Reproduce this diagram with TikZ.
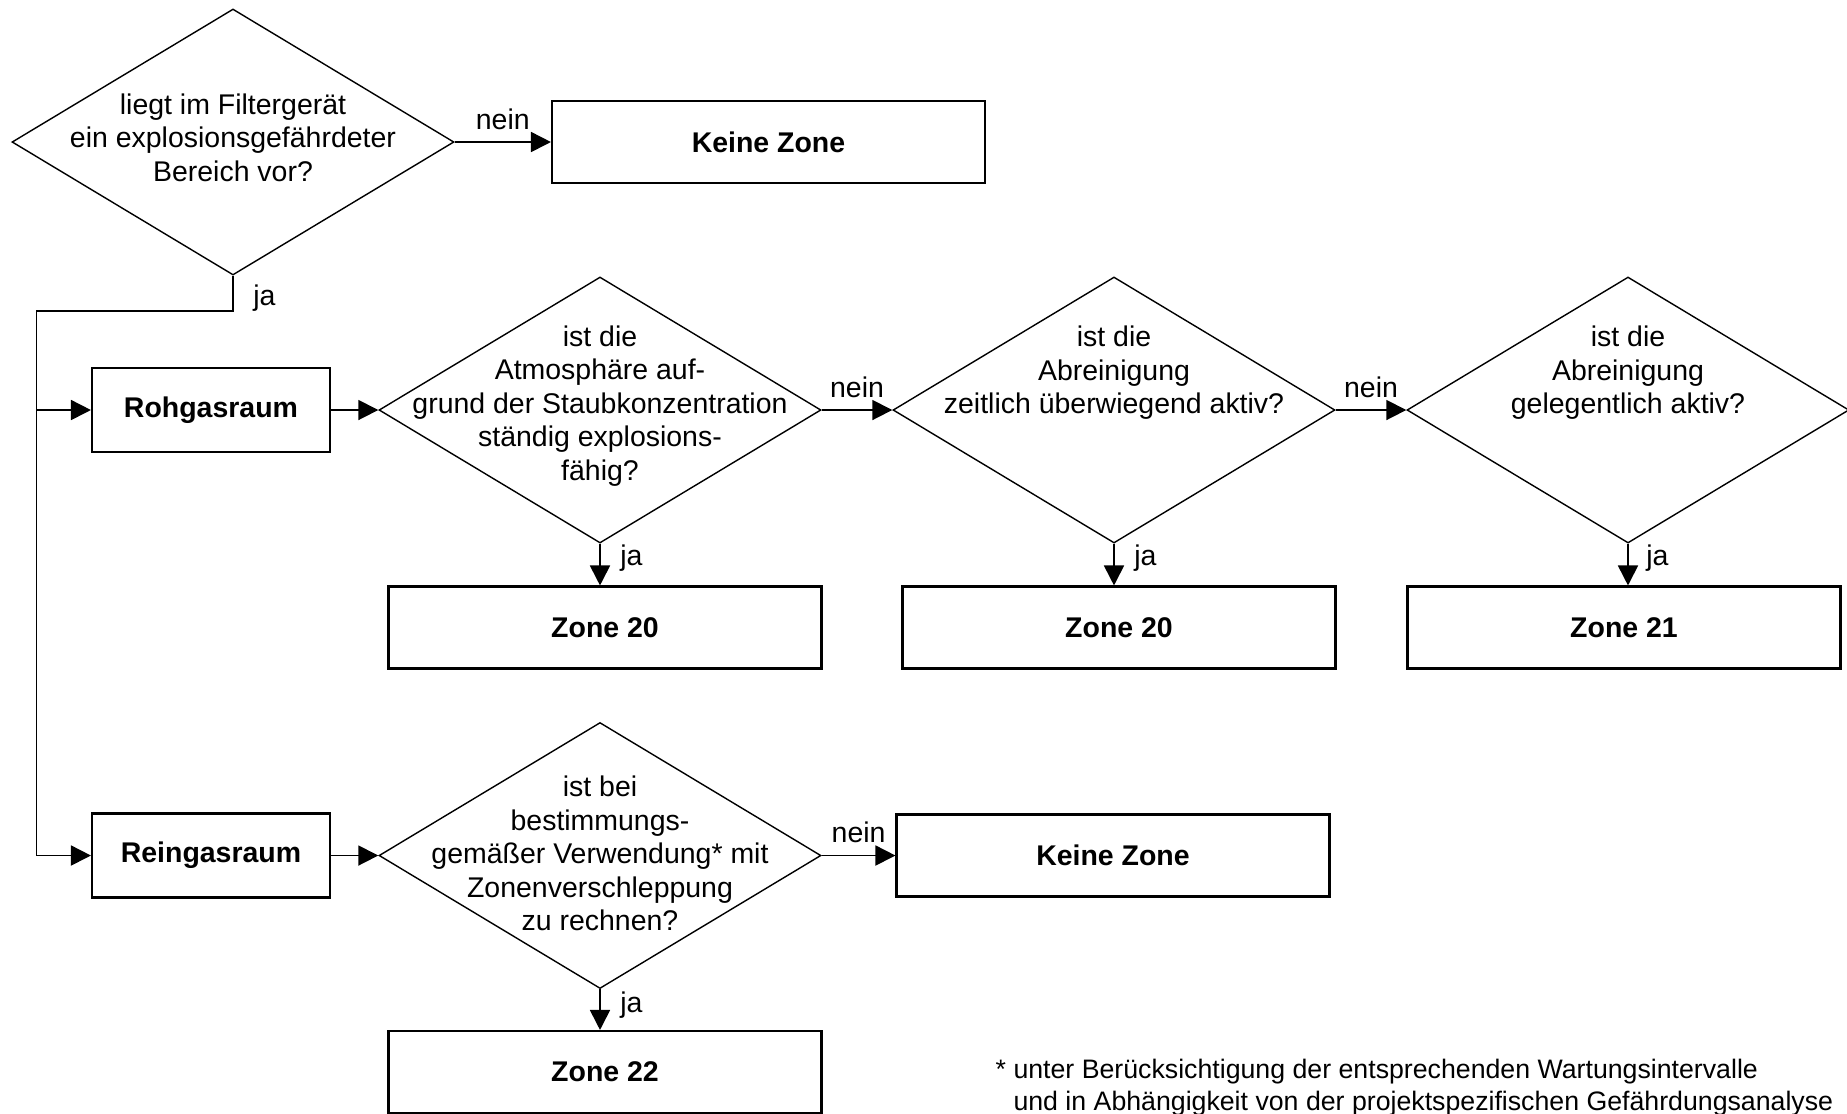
\documentclass[tikz,border=0pt]{standalone}
\usepackage{fontspec}
\setmainfont{Liberation Sans}
\usetikzlibrary{shapes.geometric,arrows.meta}
\newcommand\chartfont{\fontsize{8.1}{9.5}\selectfont}
\newcommand\notefont{\fontsize{7.6}{9.1}\selectfont}

\begin{document}
\begin{tikzpicture}[
  question/.style={diamond,draw,line width=0.4pt,minimum width=4.42cm,
                   minimum height=2.66cm,inner sep=0pt},
  qtext/.style={align=center,inner sep=0pt,font=\chartfont},
  zbox/.style={draw,line width=0.6pt,minimum width=4.33cm,minimum height=0.82cm,
               inner sep=0pt,font=\chartfont\bfseries},
  gbox/.style={zbox,minimum width=2.38cm,minimum height=0.84cm},
  flow/.style={line width=0.5pt,-{Triangle[length=2mm,width=2mm]}},
  lbl/.style={font=\chartfont,inner sep=1pt}]
  \useasboundingbox (0,0) rectangle (18.47,-11.13);

  % Entry question: is there a hazardous area at all?
  \node[question] (q1) at (2.33,-1.42) {};
  \node[qtext,yshift=0.45mm] (q1t) at (q1)
    {liegt im Filtergerät\\ein explosionsgefährdeter\\Bereich vor?};
  \node[zbox] (k1) at (7.685,-1.42) {Keine Zone};
  \draw[flow] (q1.east) -- node[lbl,above=0.8mm] {nein} (k1.west);

  % Raw gas side.
  \node[gbox] (roh) at (2.11,-4.10) {Rohgasraum};
  \node[question] (q2) at (6.00,-4.10) {};
  \node[qtext,yshift=0.4mm] (q2t) at (q2)
    {ist die\\Atmosphäre auf-\\grund der Staubkonzentration\\ständig explosions-\\fähig?};
  \node[question] (q3) at (11.14,-4.10) {};
  \node[qtext,yshift=3.7mm] (q3t) at (q3)
    {ist die\\Abreinigung\\zeitlich überwiegend aktiv?};
  \node[question] (q4) at (16.28,-4.10) {};
  \node[qtext,yshift=3.7mm] (q4t) at (q4)
    {ist die\\Abreinigung\\gelegentlich aktiv?};
  \node[zbox] (z20a) at (6.05,-6.275) {Zone 20};
  \node[zbox] (z20b) at (11.19,-6.275) {Zone 20};
  \node[zbox] (z21) at (16.24,-6.275) {Zone 21};

  % Clean gas side.
  \node[gbox] (rein) at (2.11,-8.555) {Reingasraum};
  \node[question] (q5) at (6.00,-8.555) {};
  \node[qtext,yshift=0.2mm] (q5t) at (q5)
    {ist bei\\bestimmungs-\\gemäßer Verwendung* mit\\Zonenverschleppung\\zu rechnen?};
  \node[zbox] (k2) at (11.13,-8.555) {Keine Zone};
  \node[zbox] (z22) at (6.05,-10.72) {Zone 22};

  % Branching trunk on the left.
  \coordinate (split) at (0.364,-3.107);
  \draw[line width=0.5pt] (q1.south) -- node[lbl,right=1.6mm,pos=0.63] {ja}
    (q1.south |- split) -- (split) -- (split |- roh.west);
  \draw[flow] (split |- roh.west) -- (roh.west);
  \draw[flow] (split |- roh.west) -- (split |- rein.west) -- (rein.west);

  \draw[flow] (roh.east) -- (q2.west);
  \draw[flow] (q2.east) -- node[lbl,above=0.8mm] {nein} (q3.west);
  \draw[flow] (q3.east) -- node[lbl,above=0.8mm] {nein} (q4.west);
  \draw[flow] (q2.south) -- node[lbl,right=1.6mm,pos=0.35] {ja} (q2.south |- z20a.north);
  \draw[flow] (q3.south) -- node[lbl,right=1.6mm,pos=0.35] {ja} (q3.south |- z20b.north);
  \draw[flow] (q4.south) -- node[lbl,right=1.4mm,pos=0.35] {ja} (q4.south |- z21.north);

  \draw[flow] (rein.east) -- (q5.west);
  \draw[flow] (q5.east) -- node[lbl,above=0.8mm] {nein} (k2.west);
  \draw[flow] (q5.south) -- node[lbl,right=1.6mm,pos=0.38] {ja} (q5.south |- z22.north);

  % Footnote.
  \node[anchor=north west,align=left,inner sep=0pt,font=\notefont] (note)
    at (9.95,-10.58)
    {* unter Berücksichtigung der entsprechenden Wartungsintervalle\\
     \phantom{* }und in Abhängigkeit von der projektspezifischen Gefährdungsanalyse};
\end{tikzpicture}
\end{document}
